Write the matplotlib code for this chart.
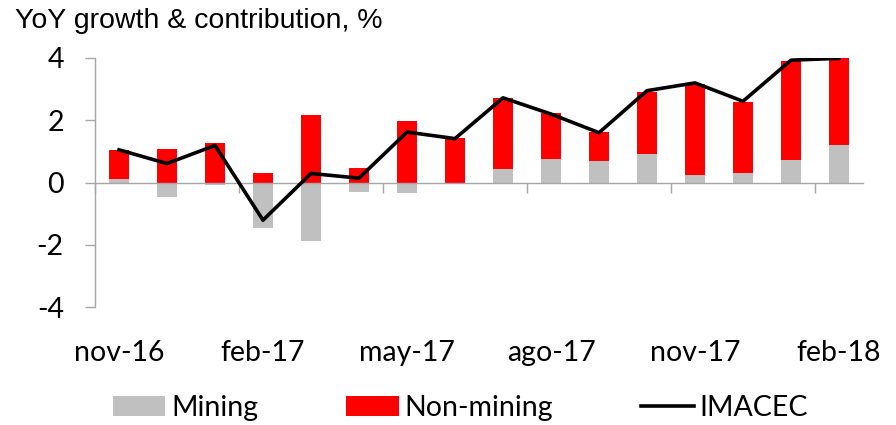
import numpy as np
import matplotlib
matplotlib.use("Agg")
import matplotlib.pyplot as plt

months = ["nov-16", "dic-16", "ene-17", "feb-17", "mar-17", "abr-17", "may-17", "jun-17",
          "jul-17", "ago-17", "sep-17", "oct-17", "nov-17", "dic-17", "ene-18", "feb-18"]
mining = [0.11, -0.46, -0.07, -1.47, -1.88, -0.31, -0.35, 0.00,
          0.44, 0.74, 0.69, 0.91, 0.23, 0.32, 0.71, 1.19]
non_mining = [0.92, 1.09, 1.26, 0.30, 2.18, 0.45, 1.99, 1.42,
              2.26, 1.48, 0.92, 2.01, 2.95, 2.28, 3.20, 2.81]
imacec = [1.05, 0.61, 1.19, -1.21, 0.29, 0.14, 1.62, 1.41,
          2.72, 2.20, 1.60, 2.95, 3.20, 2.61, 3.93, 3.99]
yticks = [-4, -2, 0, 2, 4]

GREY = "#c0c0c0"
RED = "#ff0000"
AXIS = "#a6a6a6"
FONT = "Lato"
FS = 20.5

x = np.arange(len(months))
mining = np.array(mining)
non_mining = np.array(non_mining)
base = np.clip(mining, 0, None)  # non-mining stacks on positive mining only

fig = plt.figure(figsize=(8.96, 4.25), dpi=100)
ax = fig.add_axes([95 / 896, 1 - 307 / 425, 768 / 896, 249 / 425])

b1 = ax.bar(x, mining, width=0.4, color=GREY, label="Mining", zorder=2)
b2 = ax.bar(x, non_mining, width=0.4, bottom=base, color=RED, label="Non-mining", zorder=2)
l1, = ax.plot(x, imacec, color="black", linewidth=2.6, label="IMACEC", zorder=3)

ax.set_xlim(-0.5, len(months) - 0.5)
ax.set_ylim(-4, 4)
ax.set_yticks(yticks)
ax.set_yticklabels([str(v) for v in yticks], fontsize=FS, family=FONT)
ax.tick_params(axis="y", direction="out", length=7.5, width=1, color=AXIS, pad=15)

# category axis sits on zero; tick marks between groups of three months
ax.spines[["top", "right"]].set_visible(False)
ax.spines["bottom"].set_position(("data", 0))
for s in ("left", "bottom"):
    ax.spines[s].set_color(AXIS)
    ax.spines[s].set_linewidth(1.0)
ax.set_xticks(np.arange(-0.5, len(months) - 1, 3))
ax.tick_params(axis="x", direction="out", length=7.5, width=1, color=AXIS, labelbottom=False)

# month labels along the bottom of the plot area
sec = ax.secondary_xaxis(0.0)
sec.set_xticks(x[::3])
sec.set_xticklabels(months[::3], fontsize=FS, family=FONT)
sec.tick_params(length=0, pad=24)
sec.spines["bottom"].set_visible(False)

fig.text(15 / 896, 1 - 28 / 425, "YoY growth & contribution, %", fontsize=20.5,
         family="Liberation Sans", va="baseline", ha="left")

fig.legend(handles=[b1, b2, l1], loc="center left", bbox_to_anchor=(113 / 896, 1 - 408 / 425),
           ncol=3, frameon=False, prop={"family": FONT, "size": FS}, borderpad=0,
           handlelength=1.83, handletextpad=0.21, columnspacing=3.1, borderaxespad=0)

fig.savefig("out.png", dpi=100)
